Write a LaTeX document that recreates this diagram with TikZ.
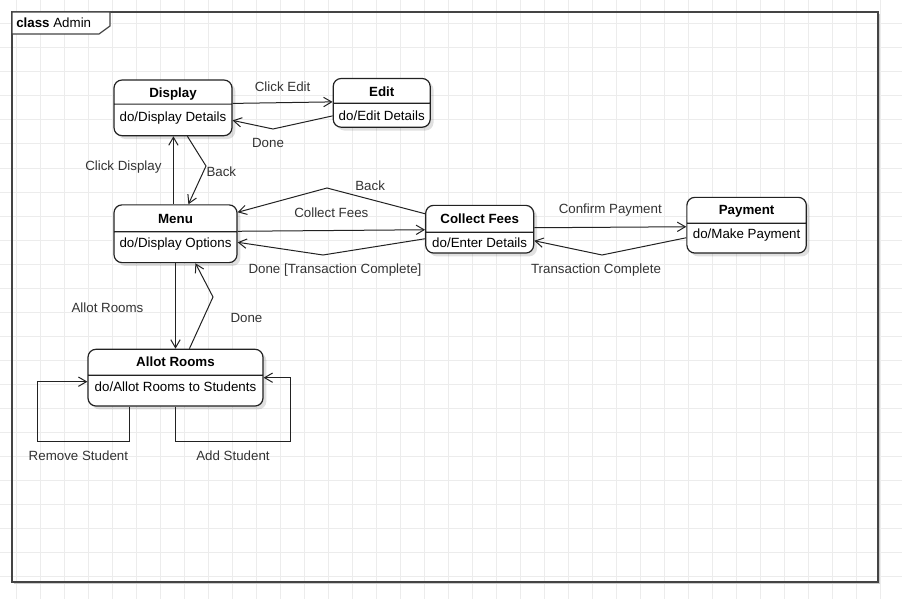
\documentclass[tikz,border=0pt]{standalone}
\usepackage{fontspec}
\setmainfont{Liberation Sans}
\usetikzlibrary{arrows.meta, positioning, shapes.multipart, shadows}
\definecolor{gridgray}{HTML}{ECECEC}
\definecolor{framegray}{HTML}{444444}
\definecolor{linegray}{HTML}{222222}
\definecolor{txtgray}{HTML}{333333}
% invisible strut: part height #1, text centre #2 below the top of the part
\newcommand{\partht}[2]{\rule[\dimexpr#2+4.6pt-#1\relax]{0pt}{\dimexpr#1-1pt\relax}}

\begin{document}
\begin{tikzpicture}[
    x=0.75pt, y=-0.75pt,
    state/.style={rectangle split, rectangle split parts=2, draw=linegray, line width=0.9pt, rounded corners=6pt, fill=white, inner ysep=0pt, drop shadow={shadow xshift=2.5pt, shadow yshift=-2.5pt, fill=black, opacity=0.12}},
    arrow/.style={-{Straight Barb[length=6pt, width=7pt]}, line width=0.75pt, draw=linegray},
    lbl/.style={inner sep=0pt, text=txtgray}
]
    % background grid and frame
    \useasboundingbox (0,0) rectangle (902,599);
    \fill[white] (0,0) rectangle (902,599);
    \foreach \gx in {16,40,...,880} \draw[gridgray, line width=0.75pt] (\gx,0) -- (\gx,599);
    \foreach \gy in {0,24,...,576} \draw[gridgray, line width=0.75pt] (0,\gy) -- (902,\gy);
    \draw[black!20, line width=1pt] (14,583.5) -- (879.5,583.5) -- (879.5,14);
    \draw[framegray, line width=0.9pt] (12,12) rectangle (878,582);
    \draw[framegray, line width=0.9pt, fill=white] (12,12) -- (110,12) -- (110,26) -- (99,34) -- (12,34) -- cycle;
    \node[anchor=west, inner sep=0pt] (tab) at (16,23) {\textbf{class} Admin};

    % states
    \node[state, minimum width=92.25pt] (menu) at (175.5,233.75) {\partht{20.25pt}{9.75pt}\textbf{Menu}\nodepart{two}\partht{23.25pt}{7.5pt}do/Display Options};
    \node[state, minimum width=88.5pt, above=51pt of menu, xshift=-1.875pt] (display) {\partht{18.2pt}{9pt}\textbf{Display}\nodepart{two}\partht{23.75pt}{8.8pt}do/Display Details};
    \node[state, minimum width=72.75pt, right=75pt of display, yshift=3.75pt] (edit) {\partht{18.75pt}{9.75pt}\textbf{Edit}\nodepart{two}\partht{18pt}{9pt}do/Edit Details};
    \node[state, minimum width=81pt, right=140.6pt of menu, yshift=3.4pt] (collect) {\partht{20.25pt}{9.75pt}\textbf{Collect Fees}\nodepart{two}\partht{15.75pt}{7.5pt}do/Enter Details};
    \node[state, minimum width=89.6pt, right=114pt of collect, yshift=3pt] (payment) {\partht{19.5pt}{9pt}\textbf{Payment}\nodepart{two}\partht{22.5pt}{7.5pt}do/Make Payment};
    \node[state, minimum width=131.25pt, below=64.1pt of menu] (allot) {\partht{19.5pt}{9pt}\textbf{Allot Rooms}\nodepart{two}\partht{23.25pt}{8.25pt}do/Allot Rooms to Students};

    % bends
    \coordinate (editbend) at (273,129);
    \coordinate (backbend) at (206,166);
    \coordinate (feesbend) at (327,188);
    \coordinate (menubend) at (323,255);
    \coordinate (paybend) at (602,255);
    \coordinate (allotbend) at (213,297);

    % transitions
    \draw[arrow] ([shift={(0,24)}]display.north east) -- node[lbl, above=8.25pt] (lclickedit) {Click Edit} ([shift={(0,24)}]edit.north west);
    \draw[arrow] ([shift={(0,38)}]edit.north west) -- (editbend) node[lbl, below=6.5pt, xshift=-3.75pt] (ldoneedit) {Done} -- ([shift={(0,41)}]display.north east);
    \draw[arrow] ([shift={(60,0)}]menu.north west) -- node[lbl, left=8.5pt, yshift=2.25pt] (lclickdisp) {Click Display} ([shift={(60,0)}]display.south west);
    \draw[arrow] ([shift={(74,0)}]display.south west) -- (backbend) node[lbl, right=0pt, yshift=-4.5pt] (lbackdisp) {Back} -- ([shift={(75,0)}]menu.north west);
    \draw[arrow] ([shift={(0,9)}]collect.north west) -- node[lbl, pos=0.56, above=5.8pt] (lbackfees) {Back} (feesbend) -- ([shift={(0,8)}]menu.north east);
    \draw[arrow] ([shift={(0,27)}]menu.north east) -- node[lbl, above=9pt] (lcollect) {Collect Fees} ([shift={(0,25)}]collect.north west);
    \draw[arrow] ([shift={(0,34)}]collect.north west) -- (menubend) node[lbl, below=6pt, xshift=9pt] (ldonefees) {Done [Transaction Complete]} -- ([shift={(0,38)}]menu.north east);
    \draw[arrow] ([shift={(0,23)}]collect.north east) -- node[lbl, above=7.5pt] (lconfirm) {Confirm Payment} ([shift={(0,30)}]payment.north west);
    \draw[arrow] ([shift={(0,41)}]payment.north west) -- (paybend) node[lbl, below=6.5pt, xshift=-4.5pt] (ltransact) {Transaction Complete} -- ([shift={(0,36)}]collect.north east);
    \draw[arrow] (menu.south) -- node[lbl, left=23.7pt, yshift=-1.5pt] (lallot) {Allot Rooms} (allot.north);
    \draw[arrow] ([shift={(102,0)}]allot.north west) -- (allotbend) node[lbl, right=12.75pt, yshift=-15.75pt] (ldoneallot) {Done} -- ([shift={(82,0)}]menu.south west);
    \draw[arrow] ([shift={(42,0)}]allot.south west) -- ++(0,35) -- node[lbl, below=6.5pt, xshift=-3.75pt] (lremove) {Remove Student} ++(-92,0) |- ([shift={(0,33)}]allot.north west);
    \draw[arrow] (allot.south) -- ++(0,35) -- node[lbl, below=6.5pt] (ladd) {Add Student} ++(115,0) |- ([shift={(0,29)}]allot.north east);
\end{tikzpicture}
\end{document}
